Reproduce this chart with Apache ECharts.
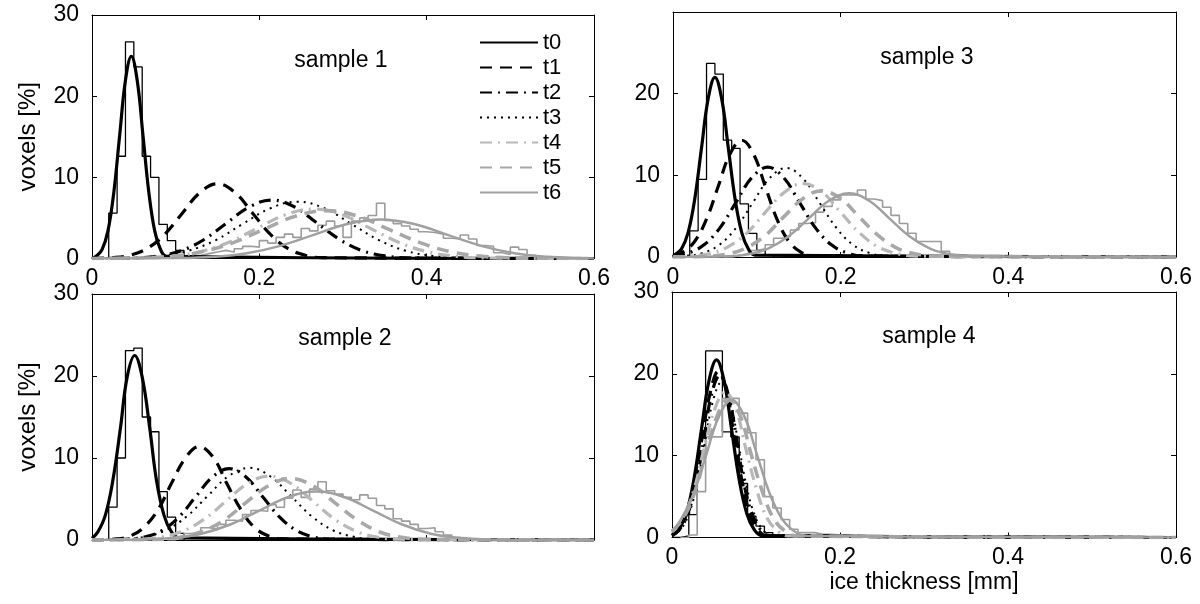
<!DOCTYPE html>
<html>
<head>
<meta charset="utf-8">
<title>ice thickness distributions</title>
<script src="https://cdn.jsdelivr.net/npm/echarts@6/dist/echarts.min.js"></script>
<style>
html, body { margin: 0; padding: 0; background: #fff; }
#main { width: 1200px; height: 604px; }
</style>
</head>
<body>
<div id="main"></div>
<script>
// fitted curves per time step, points as [ice thickness mm, voxels %]
var curveNames = ['t0', 't1', 't2', 't3', 't4', 't5', 't6'];
var sampleNames = ['sample 1', 'sample 2', 'sample 3', 'sample 4'];
var xTickStep = 0.2, xMax = 0.6;
var yTickStep = 10, yMax = 30;
var binWidth = 0.01;

// sample 1
var s1_t0 = [[0,0],[0.005,0.28],[0.012,1.09],[0.019,3.37],[0.026,8.09],[0.033,15.1],[0.040,21.97],[0.047,24.9],[0.054,21.97],[0.061,15.1],[0.068,8.09],[0.075,3.37],[0.082,1.09],[0.089,0.28],[0.6,0]];
var s1_t1 = [[0,0],[0.024,0.1],[0.045,0.4],[0.066,1.24],[0.087,2.99],[0.108,5.58],[0.129,8.12],[0.15,9.2],[0.171,8.12],[0.192,5.58],[0.213,2.99],[0.234,1.24],[0.255,0.4],[0.276,0.1],[0.6,0]];
var s1_t2 = [[0,0],[0.053,0.08],[0.08,0.32],[0.107,0.97],[0.134,2.34],[0.161,4.37],[0.188,6.35],[0.215,7.2],[0.242,6.35],[0.269,4.37],[0.296,2.34],[0.323,0.97],[0.35,0.32],[0.377,0.08],[0.6,0]];
var s1_t3 = [[0,0],[0.05,0.08],[0.083,0.31],[0.115,0.95],[0.148,2.27],[0.18,4.25],[0.213,6.18],[0.245,7.0],[0.278,6.18],[0.31,4.25],[0.343,2.27],[0.375,0.95],[0.408,0.31],[0.44,0.08],[0.6,0]];
var s1_t4 = [[0,0],[0.061,0.07],[0.095,0.27],[0.129,0.83],[0.163,1.98],[0.197,3.7],[0.231,5.38],[0.265,6.1],[0.299,5.38],[0.333,3.7],[0.367,1.98],[0.401,0.83],[0.435,0.27],[0.469,0.07],[0.6,0]];
var s1_t5 = [[0,0],[0.055,0.07],[0.093,0.26],[0.13,0.8],[0.168,1.92],[0.205,3.58],[0.243,5.21],[0.28,5.9],[0.318,5.21],[0.355,3.58],[0.393,1.92],[0.43,0.8],[0.468,0.26],[0.505,0.07],[0.6,0]];
var s1_t6 = [[0,0],[0.105,0.05],[0.145,0.21],[0.185,0.65],[0.225,1.56],[0.265,2.91],[0.305,4.24],[0.345,4.8],[0.385,4.24],[0.425,2.91],[0.465,1.56],[0.505,0.65],[0.545,0.21],[0.585,0.05],[0.6,0]];

// sample 2
var s2_t0 = [[0,0.2],[0.007,0.99],[0.016,3.04],[0.025,7.31],[0.034,13.65],[0.042,19.86],[0.051,22.5],[0.06,19.86],[0.069,13.65],[0.077,7.31],[0.086,3.04],[0.095,0.99],[0.104,0.25],[0.6,0]];
var s2_t1 = [[0,0],[0.029,0.13],[0.046,0.5],[0.062,1.54],[0.079,3.7],[0.095,6.91],[0.112,10.06],[0.128,11.4],[0.145,10.06],[0.161,6.91],[0.178,3.7],[0.194,1.54],[0.211,0.5],[0.227,0.13],[0.6,0]];
var s2_t2 = [[0,0],[0.044,0.1],[0.064,0.38],[0.084,1.18],[0.104,2.82],[0.124,5.28],[0.144,7.68],[0.164,8.7],[0.184,7.68],[0.204,5.28],[0.224,2.82],[0.244,1.18],[0.264,0.38],[0.284,0.1],[0.6,0]];
var s2_t3 = [[0,0],[0.038,0.1],[0.063,0.39],[0.088,1.19],[0.113,2.86],[0.138,5.34],[0.163,7.77],[0.188,8.8],[0.213,7.77],[0.238,5.34],[0.263,2.86],[0.288,1.19],[0.313,0.39],[0.338,0.1],[0.6,0]];
var s2_t4 = [[0,0],[0.056,0.09],[0.082,0.34],[0.108,1.06],[0.134,2.53],[0.16,4.73],[0.186,6.88],[0.212,7.8],[0.238,6.88],[0.264,4.73],[0.29,2.53],[0.316,1.06],[0.342,0.34],[0.368,0.09],[0.6,0]];
var s2_t5 = [[0,0],[0.078,0.08],[0.105,0.33],[0.131,1.01],[0.158,2.44],[0.184,4.55],[0.211,6.62],[0.237,7.5],[0.264,6.62],[0.29,4.55],[0.317,2.44],[0.343,1.01],[0.37,0.33],[0.396,0.08],[0.6,0]];
var s2_t6 = [[0,0],[0.064,0.07],[0.098,0.26],[0.132,0.8],[0.166,1.92],[0.2,3.58],[0.234,5.21],[0.268,5.9],[0.302,5.21],[0.336,3.58],[0.37,1.92],[0.404,0.8],[0.438,0.26],[0.472,0.07],[0.6,0]];

// sample 3
var s3_t0 = [[0,0],[0.002,0.24],[0.01,0.97],[0.018,2.98],[0.026,7.14],[0.034,13.34],[0.042,19.42],[0.05,22.0],[0.058,19.42],[0.066,13.34],[0.074,7.14],[0.082,2.98],[0.09,0.97],[0.098,0.24],[0.6,0]];
var s3_t1 = [[0,0.2],[0.012,0.63],[0.026,1.93],[0.04,4.64],[0.054,8.67],[0.068,12.62],[0.082,14.3],[0.096,12.62],[0.11,8.67],[0.124,4.64],[0.138,1.93],[0.152,0.63],[0.166,0.16],[0.6,0]];
var s3_t2 = [[0,0.13],[0.018,0.48],[0.037,1.49],[0.056,3.57],[0.075,6.67],[0.094,9.71],[0.113,11.0],[0.132,9.71],[0.151,6.67],[0.17,3.57],[0.189,1.49],[0.208,0.48],[0.227,0.12],[0.6,0]];
var s3_t3 = [[0,0],[0.015,0.12],[0.035,0.48],[0.055,1.47],[0.075,3.54],[0.095,6.61],[0.115,9.62],[0.135,10.9],[0.155,9.62],[0.175,6.61],[0.195,3.54],[0.215,1.47],[0.235,0.48],[0.255,0.12],[0.6,0]];
var s3_t4 = [[0,0],[0.02,0.1],[0.043,0.4],[0.065,1.22],[0.088,2.92],[0.11,5.46],[0.133,7.94],[0.155,9.0],[0.178,7.94],[0.2,5.46],[0.223,2.92],[0.245,1.22],[0.268,0.4],[0.29,0.1],[0.6,0]];
var s3_t5 = [[0,0],[0.042,0.09],[0.065,0.36],[0.087,1.1],[0.11,2.63],[0.132,4.91],[0.155,7.15],[0.177,8.1],[0.2,7.15],[0.222,4.91],[0.245,2.63],[0.267,1.1],[0.29,0.36],[0.312,0.09],[0.6,0]];
var s3_t6 = [[0,0],[0.066,0.09],[0.09,0.34],[0.114,1.06],[0.138,2.53],[0.162,4.73],[0.186,6.88],[0.21,7.8],[0.234,6.88],[0.258,4.73],[0.282,2.53],[0.306,1.06],[0.33,0.34],[0.354,0.09],[0.6,0]];

// sample 4
var s4_t0 = [[0,0.2],[0.008,0.95],[0.017,2.94],[0.026,7.05],[0.035,13.16],[0.044,19.15],[0.053,21.7],[0.062,19.15],[0.071,13.16],[0.08,7.05],[0.089,2.94],[0.098,0.95],[0.107,0.24],[0.6,0]];
var s4_t1 = [[0,0.31],[0.008,0.89],[0.017,2.75],[0.027,6.59],[0.036,12.31],[0.046,17.91],[0.055,20.3],[0.065,17.91],[0.074,12.31],[0.084,6.59],[0.093,2.75],[0.103,0.89],[0.112,0.23],[0.6,0]];
var s4_t2 = [[0,0.28],[0.008,0.87],[0.018,2.68],[0.028,6.43],[0.038,12.01],[0.047,17.47],[0.057,19.8],[0.067,17.47],[0.077,12.01],[0.086,6.43],[0.096,2.68],[0.106,0.87],[0.116,0.22],[0.6,0]];
var s4_t3 = [[0,0.25],[0.009,0.83],[0.019,2.57],[0.029,6.17],[0.039,11.52],[0.049,16.77],[0.059,19.0],[0.069,16.77],[0.079,11.52],[0.089,6.17],[0.099,2.57],[0.109,0.83],[0.119,0.21],[0.6,0]];
var s4_t4 = [[0,0.74],[0.013,2.41],[0.026,5.78],[0.038,10.8],[0.051,15.71],[0.063,17.8],[0.076,15.71],[0.088,10.8],[0.101,5.78],[0.113,2.41],[0.126,0.78],[0.138,0.2],[0.6,0]];
var s4_t5 = [[0,0.78],[0.013,2.29],[0.027,5.49],[0.04,10.25],[0.054,14.91],[0.067,16.9],[0.081,14.91],[0.094,10.25],[0.108,5.49],[0.121,2.29],[0.135,0.74],[0.148,0.19],[0.6,0]];
var s4_t6 = [[0,0.6],[0.011,2.27],[0.026,5.45],[0.041,10.19],[0.056,14.83],[0.071,16.8],[0.086,14.83],[0.101,10.19],[0.116,5.45],[0.131,2.27],[0.146,0.74],[0.161,0.19],[0.6,0]];

// measured histograms (0.01 mm bins): first bin start and bin heights in %
var h1_t0_start = 0.02, h1_t0 = [5.6, 12.6, 26.7, 23.6, 12.6, 10.0, 4.2, 2.2, 1.0, 0.3];
var h1_t6_start = 0.10, h1_t6 = [0.1,0.3,0.4,0.6,0.8,1.0,0.8,1.2,1.5,1.4,2.2,1.9,2.6,3.0,2.6,3.7,3.4,4.1,4.6,4.0,2.6,4.6,5.0,5.3,6.8,4.7,4.3,4.0,3.6,3.3,3.2,3.0,2.5,2.4,2.9,2.4,1.6,1.5,0.7,0.5,1.4,1.1,0.4,0.1];
var h2_t0_start = 0.02, h2_t0 = [4.0, 10.0, 23.1, 23.4, 15.0, 13.2, 5.9, 2.8, 0.8];
var h2_t6_start = 0.10, h2_t6 = [0.4,0.8,1.0,1.5,1.3,1.9,2.4,2.3,3.1,3.6,3.5,4.3,4.0,5.1,6.1,5.2,6.2,7.1,6.0,5.6,5.2,4.9,5.5,5.1,4.2,3.8,2.6,2.3,1.9,1.4,1.5,1.0,0.6,0.3,0.1];
var h3_t0_start = 0.02, h3_t0 = [3.2, 9.5, 23.7, 22.4, 14.3, 13.3, 6.5, 2.9, 0.8, 0.3];
var h3_t6_start = 0.07, h3_t6 = [0.2,0.4,0.8,1.0,1.5,2.3,2.5,3.3,4.1,4.2,5.5,6.2,7.0,7.6,7.6,8.2,7.1,6.9,6.1,5.1,4.1,2.9,1.9,1.9,1.9,0.7,0.3,0.2,0.1];
var h4_t0_start = 0.01, h4_t0 = [0.2, 2.8, 9.8, 22.8, 22.8, 12.9, 12.3, 6.6, 2.6, 1.4, 0.6, 0.2];
var h4_t6_start = 0.02, h4_t6 = [0.3, 5.6, 12.3, 12.3, 17.0, 17.0, 15.2, 12.8, 9.5, 5.0, 3.6, 2.2, 1.0, 0.6, 0.6, 0.4, 0.4, 0.3, 0.2];

var FONT = '"Liberation Sans", Arial, Helvetica, sans-serif';

// panel order: sample 1 (top left), sample 2 (bottom left), sample 3 (top right), sample 4 (bottom right)
var panelCurves = [
  [s1_t0, s1_t1, s1_t2, s1_t3, s1_t4, s1_t5, s1_t6],
  [s2_t0, s2_t1, s2_t2, s2_t3, s2_t4, s2_t5, s2_t6],
  [s3_t0, s3_t1, s3_t2, s3_t3, s3_t4, s3_t5, s3_t6],
  [s4_t0, s4_t1, s4_t2, s4_t3, s4_t4, s4_t5, s4_t6]
];
var panelHists = [
  [[h1_t0_start, h1_t0], [h1_t6_start, h1_t6]],
  [[h2_t0_start, h2_t0], [h2_t6_start, h2_t6]],
  [[h3_t0_start, h3_t0], [h3_t6_start, h3_t6]],
  [[h4_t0_start, h4_t0], [h4_t6_start, h4_t6]]
];

var grids = [
  { left: 92, top: 15, width: 502, height: 243.5 },
  { left: 92, top: 294, width: 502, height: 246 },
  { left: 673, top: 12, width: 503, height: 245 },
  { left: 672, top: 292, width: 504, height: 245.5 }
];
var titlePos = [[336, 44], [340, 322], [922, 41], [924, 320]];

var curveStyles = [
  { color: '#000', width: 3.2, type: 'solid' },
  { color: '#000', width: 3.2, type: [12, 8] },
  { color: '#000', width: 3.2, type: [12, 6, 2, 6] },
  { color: '#000', width: 2, type: [2, 5] },
  { color: '#b8b8b8', width: 3.2, type: [12, 6, 2, 6] },
  { color: '#a8a8a8', width: 3.6, type: [12, 8] },
  { color: '#a0a0a0', width: 2.5, type: 'solid' }
];
var histStyles = [
  { color: '#000', width: 1.3 },
  { color: '#9c9c9c', width: 1.6 }
];

function histPoints(start, heights) {
  var pts = [[+(start - binWidth).toFixed(3), 0]];
  heights.forEach(function (h, i) {
    pts.push([+(start + i * binWidth).toFixed(3), h]);
  });
  pts.push([+(start + heights.length * binWidth).toFixed(3), 0]);
  return pts;
}

var tickLabel = { fontFamily: FONT, fontSize: 23, color: '#000' };
var xAxes = [], yAxes = [], series = [], titles = [];

grids.forEach(function (g, i) {
  var showX = i !== 1;
  xAxes.push({
    type: 'value', gridIndex: i, min: 0, max: xMax, interval: xTickStep,
    axisLine: { show: true, onZero: false, lineStyle: { color: '#000', width: 1 } },
    axisTick: { inside: true, length: 5, lineStyle: { color: '#000' } },
    axisLabel: Object.assign({ show: showX, margin: 9, formatter: function (v) { return v === 0 ? '0' : v.toFixed(1); } }, tickLabel),
    splitLine: { show: false },
    name: i === 3 ? 'ice thickness [mm]' : '',
    nameLocation: 'middle', nameGap: 34,
    nameTextStyle: { fontFamily: FONT, fontSize: 23, color: '#000' }
  });
  yAxes.push({
    type: 'value', gridIndex: i, min: 0, max: yMax, interval: yTickStep,
    axisLine: { show: true, onZero: false, lineStyle: { color: '#000', width: 1 } },
    axisTick: { inside: true, length: 5, lineStyle: { color: '#000' } },
    axisLabel: Object.assign({ margin: 13, formatter: function (v) { return (i === 2 && v === yMax) ? '' : String(v); } }, tickLabel),
    splitLine: { show: false },
    name: i < 2 ? 'voxels [%]' : '',
    nameLocation: 'middle', nameRotate: 90, nameGap: 52,
    nameTextStyle: { fontFamily: FONT, fontSize: 24, color: '#000' }
  });
  titles.push({
    text: sampleNames[i], left: titlePos[i][0], top: titlePos[i][1], textAlign: 'center',
    textStyle: { fontFamily: FONT, fontSize: 23, fontWeight: 'normal', color: '#000' }
  });

  panelHists[i].forEach(function (h, k) {
    series.push({
      name: 'hist ' + curveNames[k === 0 ? 0 : 6], type: 'line', step: 'end',
      xAxisIndex: i, yAxisIndex: i, symbol: 'none', z: 2, silent: true,
      lineStyle: histStyles[k],
      data: histPoints(h[0], h[1])
    });
  });
  panelCurves[i].forEach(function (pts, k) {
    series.push({
      name: curveNames[k], type: 'line', smooth: 0.4,
      xAxisIndex: i, yAxisIndex: i, symbol: 'none', showSymbol: false, z: 3 + k, silent: true,
      itemStyle: { color: curveStyles[k].color },
      lineStyle: curveStyles[k],
      data: pts
    });
  });
});

// mirrored ticks on top and right edges (box axes)
grids.forEach(function (g, i) {
  xAxes.push({
    type: 'value', gridIndex: i, position: 'top', min: 0, max: xMax, interval: xTickStep,
    axisLine: { show: true, onZero: false, lineStyle: { color: '#000', width: 1 } },
    axisTick: { inside: true, length: 5, lineStyle: { color: '#000' } },
    axisLabel: { show: false }, splitLine: { show: false }
  });
  yAxes.push({
    type: 'value', gridIndex: i, position: 'right', min: 0, max: yMax, interval: yTickStep,
    axisLine: { show: true, onZero: false, lineStyle: { color: '#000', width: 1 } },
    axisTick: { inside: true, length: 5, lineStyle: { color: '#000' } },
    axisLabel: { show: false }, splitLine: { show: false }
  });
});

var option = {
  animation: false,
  backgroundColor: '#fff',
  title: titles,
  legend: {
    data: curveNames, orient: 'vertical', left: 474, top: 26,
    itemWidth: 58, itemHeight: 14, itemGap: 2, selectedMode: false,
    itemStyle: { color: 'transparent', borderWidth: 0, opacity: 0 },
    textStyle: { fontFamily: FONT, fontSize: 22, lineHeight: 23, color: '#000' }
  },
  grid: grids,
  xAxis: xAxes,
  yAxis: yAxes,
  series: series
};

var myChart = echarts.init(document.getElementById('main'));
myChart.setOption(option);
</script>
</body>
</html>
